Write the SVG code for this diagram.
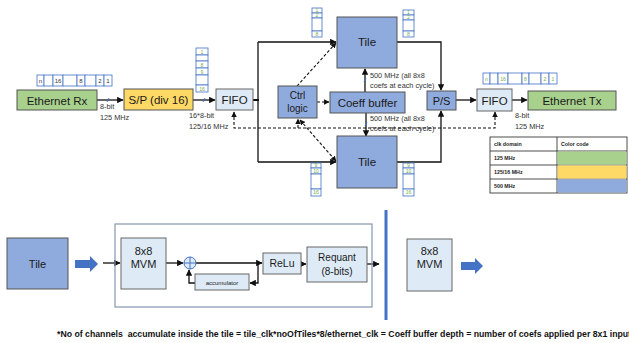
<svg xmlns="http://www.w3.org/2000/svg" width="629" height="343" viewBox="0 0 629 343">
<defs>
<style>
.t{font-family:"Liberation Sans",Arial,sans-serif;fill:#1a1a1a;text-anchor:middle}
.s{font-family:"Liberation Sans",Arial,sans-serif;fill:#333;font-size:7.3px}
.g{fill:#a9d18e;stroke:#555;stroke-width:1}
.y{fill:#ffd966;stroke:#555;stroke-width:1}
.b{fill:#8faadc;stroke:#555;stroke-width:1}
.l{fill:#deebf7;stroke:#666;stroke-width:1}
.cell{fill:#fff;stroke:#4472c4;stroke-width:0.8}
.ct{font-family:"Liberation Sans",Arial,sans-serif;font-size:5px;text-anchor:middle;fill:#70ad47}
.ctd{font-family:"Liberation Sans",Arial,sans-serif;font-size:6px;text-anchor:middle;fill:#333}
.w{fill:none;stroke:#111;stroke-width:1.3}
.d{fill:none;stroke:#111;stroke-width:1.1;stroke-dasharray:3,2}
.tick{stroke:#4472c4;stroke-width:1}
.lg{font-family:"Liberation Sans",Arial,sans-serif;font-size:5.3px;font-weight:bold;fill:#222}
</style>
<marker id="a" viewBox="0 0 10 10" refX="9" refY="5" markerWidth="5" markerHeight="5" orient="auto-start-reverse"><path d="M0,0 L10,5 L0,10 z" fill="#111"/></marker>
</defs>

<!-- connectors -->
<g id="connectors">
<line class="w" x1="97" y1="100" x2="123" y2="100" marker-end="url(#a)"/>
<line class="tick" x1="107" y1="102" x2="109" y2="98"/>
<line class="w" x1="193" y1="100" x2="215" y2="100" marker-end="url(#a)"/>
<line class="tick" x1="203" y1="102" x2="205" y2="98"/>
<line x1="253" y1="100" x2="259" y2="100" stroke="#111" stroke-width="2"/>
<polyline class="w" points="258,42 258,162" stroke-width="1.5"/>
<line class="w" x1="258" y1="42" x2="336" y2="42" marker-end="url(#a)"/>
<line class="w" x1="258" y1="162" x2="336" y2="162" marker-end="url(#a)"/>
<polyline class="w" points="397,42 441,42 441,90" marker-end="url(#a)"/>
<polyline class="w" points="397,162 441,162 441,111" marker-end="url(#a)"/>
<line class="w" x1="456" y1="100" x2="476" y2="100" marker-end="url(#a)"/>
<line class="w" x1="512" y1="100" x2="527" y2="100" marker-end="url(#a)"/>
<line class="w" x1="365" y1="92" x2="365" y2="69" marker-end="url(#a)"/>
<line class="tick" x1="364" y1="82" x2="366" y2="78"/>
<line class="w" x1="366" y1="113" x2="366" y2="136" marker-end="url(#a)"/>
<line class="tick" x1="365" y1="126" x2="367" y2="122"/>
<line class="d" x1="317" y1="102" x2="329" y2="102" marker-end="url(#a)"/>
<line class="d" x1="297" y1="86" x2="336" y2="43" marker-end="url(#a)"/>
<line class="d" x1="300" y1="120" x2="336" y2="161" marker-start="url(#a)" marker-end="url(#a)"/>
<polyline class="d" points="234,112 234,128 495,128 495,112" marker-start="url(#a)" marker-end="url(#a)"/>
<line class="d" x1="298" y1="128" x2="298" y2="119" marker-end="url(#a)"/>
<!-- bottom -->
<line class="w" x1="103" y1="263" x2="120" y2="263" stroke-width="1" marker-end="url(#a)"/>
<line class="w" x1="166" y1="263" x2="183" y2="263" stroke-width="1" marker-end="url(#a)"/>
<line class="w" x1="196" y1="263" x2="262" y2="263" stroke-width="1" marker-end="url(#a)"/>
<polyline class="w" points="258,263 258,283 250,283" stroke-width="1" marker-end="url(#a)"/>
<polyline class="w" points="195,283 189,283 189,270" stroke-width="1" marker-end="url(#a)"/>
<line class="w" x1="301" y1="264" x2="306" y2="264" stroke-width="1" marker-end="url(#a)"/>
<line class="w" x1="367" y1="264" x2="379" y2="264" stroke-width="1" marker-end="url(#a)"/>
</g>

<!-- top nodes -->
<g id="rx-bits">
<rect class="cell" x="37" y="75" width="7" height="11"/><rect class="cell" x="44" y="75" width="9" height="11"/><rect class="cell" x="53" y="75" width="10" height="11"/><rect class="cell" x="63" y="75" width="14" height="11"/><rect class="cell" x="77" y="75" width="8" height="11"/><rect class="cell" x="85" y="75" width="11" height="11"/><rect class="cell" x="96" y="75" width="8" height="11"/><rect class="cell" x="104" y="75" width="8" height="11"/>
<text class="ctd" x="40.5" y="82.5">n</text><text class="ctd" x="58" y="82.5">16</text><text class="ctd" x="81" y="82.5">8</text><text class="ctd" x="100" y="82.5">2</text><text class="ctd" x="108" y="82.5">1</text>
</g>
<g id="ethernet-rx"><rect class="g" x="17" y="90" width="80" height="20"/><text class="t" x="57" y="104.5" font-size="11.5">Ethernet Rx</text></g>
<text class="s" x="100" y="109">8-bit</text><text class="s" x="100" y="119.5">125 MHz</text>
<g id="sp"><rect class="y" x="124" y="89" width="69" height="21"/><text class="t" x="158.5" y="104" font-size="11.5">S/P (div 16)</text></g>
<text class="s" x="189" y="118">16*8-bit</text><text class="s" x="189" y="128.5">125/16 MHz</text>
<g id="sp-bits">
<rect class="cell" x="196" y="48" width="12" height="7"/><rect class="cell" x="196" y="55" width="12" height="6"/><rect class="cell" x="196" y="61" width="12" height="7"/><rect class="cell" x="196" y="68" width="12" height="7"/><rect class="cell" x="196" y="75" width="12" height="10"/><rect class="cell" x="196" y="85" width="12" height="7"/>
<text class="ct" x="202" y="53.5">1</text><text class="ct" x="202" y="66.5">8</text><text class="ct" x="202" y="73.5">9</text><text class="ct" x="202" y="90.5">16</text>
</g>
<g id="fifo1"><rect class="l" x="216" y="89" width="37" height="21"/><text class="t" x="234.5" y="104" font-size="11.5">FIFO</text></g>
<g id="ctrl"><rect class="b" x="278" y="86" width="39" height="32"/><text class="t" x="297.5" y="99" font-size="10">Ctrl</text><text class="t" x="297.5" y="112" font-size="10">logic</text></g>
<g id="coeff"><rect class="b" x="330" y="92" width="75" height="21"/><text class="t" x="367.5" y="106.5" font-size="11.5">Coeff buffer</text></g>
<g id="tile-top"><rect class="b" x="337" y="17" width="60" height="51"/><text class="t" x="367" y="46" font-size="11.5">Tile</text></g>
<g id="tile-top-bits-l">
<rect class="cell" x="312" y="8" width="10" height="5"/><rect class="cell" x="312" y="13" width="10" height="5"/><rect class="cell" x="312" y="18" width="10" height="13"/><rect class="cell" x="312" y="31" width="10" height="6"/>
<text class="ct" x="317" y="12" font-size="4">1</text><text class="ct" x="317" y="17" font-size="4">2</text><text class="ct" x="317" y="35.5" font-size="4">8</text>
</g>
<g id="tile-top-bits-r">
<rect class="cell" x="403" y="10" width="11" height="5"/><rect class="cell" x="403" y="15" width="11" height="5"/><rect class="cell" x="403" y="20" width="11" height="11"/><rect class="cell" x="403" y="31" width="11" height="6"/>
<text class="ct" x="408.5" y="14" font-size="4">1</text><text class="ct" x="408.5" y="19" font-size="4">2</text><text class="ct" x="408.5" y="35.5" font-size="4">8</text>
</g>
<text class="s" x="370" y="78">500 MHz (all 8x8</text><text class="s" x="370" y="88">coefs at each cycle)</text>
<text class="s" x="370" y="121">500 MHz (all 8x8</text><text class="s" x="370" y="131">coefs at each cycle)</text>
<g id="tile-bot"><rect class="b" x="337" y="136" width="60" height="52"/><text class="t" x="367" y="166" font-size="11.5">Tile</text></g>
<g id="tile-bot-bits-l">
<rect class="cell" x="311" y="163" width="10" height="5"/><rect class="cell" x="311" y="168" width="10" height="6"/><rect class="cell" x="311" y="174" width="10" height="15"/><rect class="cell" x="311" y="189" width="10" height="7"/>
<text class="ct" x="316" y="167" font-size="4">9</text><text class="ct" x="316" y="172.5" font-size="4">10</text><text class="ct" x="316" y="194" font-size="4">16</text>
</g>
<g id="tile-bot-bits-r">
<rect class="cell" x="403" y="163" width="11" height="5"/><rect class="cell" x="403" y="168" width="11" height="6"/><rect class="cell" x="403" y="174" width="11" height="15"/><rect class="cell" x="403" y="189" width="11" height="7"/>
<text class="ct" x="408.5" y="167" font-size="4">9</text><text class="ct" x="408.5" y="172.5" font-size="4">10</text><text class="ct" x="408.5" y="194" font-size="4">16</text>
</g>
<g id="ps"><rect class="b" x="427" y="91" width="29" height="19"/><text class="t" x="441.5" y="104.5" font-size="11">P/S</text></g>
<g id="fifo2"><rect class="l" x="477" y="89" width="35" height="22"/><text class="t" x="494.5" y="104.5" font-size="11.5">FIFO</text></g>
<g id="tx-bits">
<rect class="cell" x="483" y="73" width="7" height="11"/><rect class="cell" x="490" y="73" width="8" height="11"/><rect class="cell" x="498" y="73" width="10" height="11"/><rect class="cell" x="508" y="73" width="14" height="11"/><rect class="cell" x="522" y="73" width="7" height="11"/><rect class="cell" x="529" y="73" width="12" height="11"/><rect class="cell" x="541" y="73" width="8" height="11"/><rect class="cell" x="549" y="73" width="8" height="11"/>
<text class="ct" x="486.5" y="80.5">n</text><text class="ct" x="503" y="80.5">16</text><text class="ct" x="525.5" y="80.5">8</text><text class="ct" x="545" y="80.5">2</text><text class="ct" x="553" y="80.5">1</text>
</g>
<g id="ethernet-tx"><rect class="g" x="528" y="91" width="88" height="19"/><text class="t" x="572" y="104.5" font-size="11.5">Ethernet Tx</text></g>
<text class="s" x="515" y="118">8-bit</text><text class="s" x="515" y="128.5">125 MHz</text>

<g id="legend">
<rect x="490" y="137" width="137" height="56" fill="#fff" stroke="#222" stroke-width="0.8"/>
<line x1="557" y1="137" x2="557" y2="193" stroke="#222" stroke-width="0.8"/>
<line x1="490" y1="151" x2="627" y2="151" stroke="#222" stroke-width="0.8"/>
<line x1="490" y1="165" x2="627" y2="165" stroke="#222" stroke-width="0.8"/>
<line x1="490" y1="179" x2="627" y2="179" stroke="#222" stroke-width="0.8"/>
<rect x="557.5" y="151.5" width="69" height="13" fill="#a9d18e"/>
<rect x="557.5" y="165.5" width="69" height="13" fill="#ffd966"/>
<rect x="557.5" y="179.5" width="69" height="13" fill="#8faadc"/>
<text class="lg" x="494" y="146">clk domain</text><text class="lg" x="561" y="146">Color code</text>
<text class="lg" x="494" y="160">125 MHz</text><text class="lg" x="494" y="174">125/16 MHz</text><text class="lg" x="494" y="188">500 MHz</text>
</g>

<!-- bottom section -->
<g id="tile-b"><rect class="b" x="7" y="238" width="61" height="51"/><text class="t" x="37.5" y="268" font-size="11">Tile</text></g>
<g id="barrow1"><path d="M75,260 H90 V256 L98,264 L90,272 V268 H75 Z" fill="#4472c4"/></g>
<g id="frame"><rect x="115" y="224" width="257" height="83" fill="none" stroke="#8497b0" stroke-width="1.2"/></g>
<g id="mvm1"><rect class="l" x="121" y="238" width="45" height="51"/><text class="t" x="143.5" y="255" font-size="11">8x8</text><text class="t" x="143.5" y="268" font-size="11">MVM</text></g>
<g id="adder"><circle cx="190" cy="263" r="6" fill="#deebf7" stroke="#4472c4" stroke-width="1"/><line x1="184" y1="263" x2="196" y2="263" stroke="#4472c4"/><line x1="190" y1="257" x2="190" y2="269" stroke="#4472c4"/></g>
<g id="accumulator"><rect class="l" x="195" y="274" width="54" height="16"/><text class="t" x="222" y="284.5" font-size="6">accumulator</text></g>
<g id="relu"><rect class="l" x="263" y="253" width="38" height="21"/><text class="t" x="282" y="267" font-size="10.5">ReLu</text></g>
<g id="requant"><rect class="l" x="307" y="247" width="60" height="35"/><text class="t" x="337" y="261" font-size="10">Requant</text><text class="t" x="337" y="275" font-size="10">(8-bits)</text></g>
<g id="divider"><rect x="384.5" y="210" width="3" height="110" fill="#4472c4"/></g>
<g id="mvm2"><rect class="l" x="407" y="239" width="45" height="52"/><text class="t" x="429.5" y="255" font-size="11">8x8</text><text class="t" x="429.5" y="268" font-size="11">MVM</text></g>
<g id="barrow2"><path d="M461,262 H475 V258 L483,266 L475,274 V270 H461 Z" fill="#4472c4"/></g>

<text xml:space="preserve" x="57" y="337" font-family="'Liberation Sans',Arial,sans-serif" font-size="8.5" font-weight="bold" fill="#111" textLength="574" lengthAdjust="spacingAndGlyphs">*No of channels  accumulate inside the tile = tile_clk*noOfTiles*8/ethernet_clk = Coeff buffer depth = number of coefs applied per 8x1 input</text>
</svg>
